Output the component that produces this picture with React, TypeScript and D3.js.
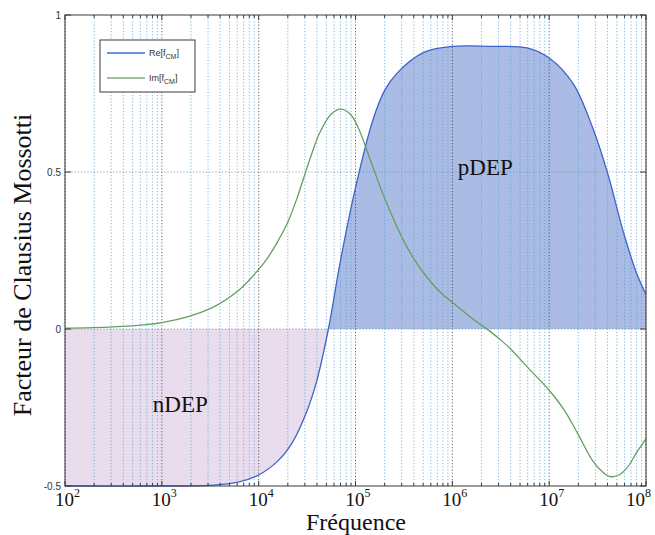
import React from 'react';
import * as d3 from 'd3';

const W = 655;
const H = 535;
const PLOT = { left: 65, right: 646, top: 15, bottom: 486 };

// Re[fCM] curve (frequency in Hz, value)
const reFreq = [1e2, 1e3, 3.16e3, 6.31e3, 1e4, 1.58e4, 2.24e4, 3.16e4, 3.98e4, 5.25e4, 6.92e4, 1e5, 1.51e5, 2.0e5, 2.69e5, 5.01e5, 1e6, 2.51e6, 5.89e6, 1e7, 1.78e7, 2.82e7, 3.98e7, 5.89e7, 7.94e7, 1e8];
const reValues = [-0.5, -0.5, -0.498, -0.487, -0.465, -0.42, -0.36, -0.26, -0.165, 0, 0.21, 0.45, 0.665, 0.76, 0.815, 0.88, 0.9, 0.9, 0.895, 0.863, 0.78, 0.64, 0.5, 0.305, 0.18, 0.11];

// Im[fCM] curve
const imFreq = [1e2, 3.16e2, 1e3, 3.16e3, 6.31e3, 1e4, 1.26e4, 1.58e4, 2.0e4, 2.51e4, 3.02e4, 3.55e4, 4.27e4, 5.62e4, 7.08e4, 8.91e4, 1.07e5, 1.29e5, 1.58e5, 1.95e5, 2.51e5, 3.16e5, 3.98e5, 5.62e5, 7.94e5, 1e6, 1.26e6, 1.58e6, 2.0e6, 2.51e6, 3.16e6, 3.98e6, 5.89e6, 1e7, 1.41e7, 1.95e7, 2.82e7, 3.55e7, 4.27e7, 5.25e7, 6.46e7, 7.94e7, 1e8];
const imValues = [0.003, 0.007, 0.02, 0.065, 0.125, 0.19, 0.23, 0.28, 0.34, 0.42, 0.495, 0.56, 0.625, 0.685, 0.7, 0.683, 0.64, 0.575, 0.5, 0.425, 0.345, 0.28, 0.225, 0.16, 0.11, 0.085, 0.06, 0.035, 0.012, -0.01, -0.035, -0.063, -0.12, -0.195, -0.255, -0.33, -0.42, -0.455, -0.47, -0.465, -0.44, -0.395, -0.35];

const xDecadeExponents = [2, 3, 4, 5, 6, 7, 8];
const yTickValues = [-0.5, 0, 0.5, 1];
const yTickLabels = ['-0.5', '0', '0.5', '1'];
const yGridValues = [0, 0.5];
const legendNames = ['Re', 'Im'];
const regionNames = ['nDEP', 'pDEP'];
const regionFreq = [1.55e3, 2.19e6];
const regionValue = [-0.264, 0.49];

const xLabel = 'Fréquence';
const yLabel = 'Facteur de Clausius Mossotti';

const RE_COLOR = '#3f63cc';
const IM_COLOR = '#62a062';
const POS_FILL = '#aabce3';
const NEG_FILL = '#e9dcec';

export default function App() {
  const x = d3.scaleLog().domain([1e2, 1e8]).range([PLOT.left, PLOT.right]);
  const y = d3.scaleLinear().domain([-0.5, 1]).range([PLOT.bottom, PLOT.top]);

  const reData = reFreq.map((f, i) => [f, reValues[i]] as [number, number]);
  const imData = imFreq.map((f, i) => [f, imValues[i]] as [number, number]);

  const curve = d3.curveCatmullRom.alpha(0.5);
  const line = d3
    .line<[number, number]>()
    .x((d) => x(d[0]))
    .y((d) => y(d[1]))
    .curve(curve);
  const area = d3
    .area<[number, number]>()
    .x((d) => x(d[0]))
    .y0(y(0))
    .y1((d) => y(d[1]))
    .curve(curve);

  const minor: number[] = [];
  const major: number[] = [];
  xDecadeExponents.forEach((e) => {
    major.push(Math.pow(10, e));
    if (e < 8) for (let k = 2; k <= 9; k++) minor.push(k * Math.pow(10, e));
  });

  const y0 = y(0);
  const serif = '"Liberation Serif", "Times New Roman", serif';
  const sans = '"Liberation Sans", Arial, sans-serif';

  return (
    <svg width={W} height={H} style={{ position: 'absolute', left: 0, top: 0, background: '#fff' }}>
      <defs>
        <clipPath id="posClip">
          <rect x={PLOT.left} y={PLOT.top} width={PLOT.right - PLOT.left} height={y0 - PLOT.top} />
        </clipPath>
        <clipPath id="negClip">
          <rect x={PLOT.left} y={y0} width={PLOT.right - PLOT.left} height={PLOT.bottom - y0} />
        </clipPath>
        <clipPath id="plotClip">
          <rect x={PLOT.left} y={PLOT.top - 1} width={PLOT.right - PLOT.left} height={PLOT.bottom - PLOT.top + 2} />
        </clipPath>
      </defs>
      <rect x={0} y={0} width={W} height={H} fill="#fff" />
      {/* fills */}
      <path d={area(reData) || ''} fill={POS_FILL} clipPath="url(#posClip)" />
      <path d={area(reData) || ''} fill={NEG_FILL} clipPath="url(#negClip)" />

      {/* grid */}
      {minor.map((f, i) => (
        <line key={'gm' + i} x1={x(f)} x2={x(f)} y1={PLOT.top} y2={PLOT.bottom} stroke="#4a9fd8" strokeWidth={0.8} strokeDasharray="1.2,2" opacity={0.9} />
      ))}
      {major.map((f, i) => (
        <line key={'gM' + i} x1={x(f)} x2={x(f)} y1={PLOT.top} y2={PLOT.bottom} stroke="#222" strokeWidth={0.8} strokeDasharray="1.2,2" opacity={0.85} />
      ))}
      {yGridValues.map((v, i) => (
        <line key={'gy' + i} x1={PLOT.left} x2={PLOT.right} y1={y(v)} y2={y(v)} stroke="#6f8fb0" strokeWidth={0.8} strokeDasharray="1.2,2" />
      ))}

      {/* curves */}
      <g clipPath="url(#plotClip)">
        <path d={line(reData) || ''} fill="none" stroke={RE_COLOR} strokeWidth={1.3} />
        <path d={line(imData) || ''} fill="none" stroke={IM_COLOR} strokeWidth={1.3} />
      </g>

      {/* axes box */}
      <rect x={PLOT.left} y={PLOT.top} width={PLOT.right - PLOT.left} height={PLOT.bottom - PLOT.top} fill="none" stroke="#3a3a3a" strokeWidth={1} />

      {/* x ticks */}
      {major.map((f, i) => (
        <g key={'xt' + i}>
          <line x1={x(f)} x2={x(f)} y1={PLOT.bottom} y2={PLOT.bottom - 5} stroke="#3a3a3a" />
          <line x1={x(f)} x2={x(f)} y1={PLOT.top} y2={PLOT.top + 5} stroke="#3a3a3a" />
        </g>
      ))}
      {minor.map((f, i) => (
        <g key={'xm' + i}>
          <line x1={x(f)} x2={x(f)} y1={PLOT.bottom} y2={PLOT.bottom - 3} stroke="#3a3a3a" />
          <line x1={x(f)} x2={x(f)} y1={PLOT.top} y2={PLOT.top + 3} stroke="#3a3a3a" />
        </g>
      ))}
      {xDecadeExponents.map((e, i) => (
        <text key={'xl' + i} x={Math.min(x(Math.pow(10, e)) - 10, W - 29)} y={506} fontFamily={serif} fontSize={19} fill="#111">
          10
          <tspan dy={-9} fontSize={12}>{e}</tspan>
        </text>
      ))}

      {/* y ticks */}
      {yTickValues.map((v, i) => (
        <g key={'yt' + i}>
          <line x1={PLOT.left} x2={PLOT.left + 6} y1={y(v)} y2={y(v)} stroke="#3a3a3a" />
          <line x1={PLOT.right} x2={PLOT.right - 6} y1={y(v)} y2={y(v)} stroke="#3a3a3a" />
          <text x={PLOT.left - 4} y={y(v) + 3.5} textAnchor="end" fontFamily={sans} fontSize={10} fill="#333">
            {yTickLabels[i]}
          </text>
        </g>
      ))}

      {/* axis titles */}
      <text x={356} y={530} textAnchor="middle" fontFamily={serif} fontSize={24} fill="#111">
        {xLabel}
      </text>
      <text transform="translate(31,265) rotate(-90)" textAnchor="middle" fontFamily={serif} fontSize={26} fill="#111">
        {yLabel}
      </text>

      {/* region labels */}
      {regionNames.map((n, i) => (
        <text key={'rl' + i} x={x(regionFreq[i])} y={y(regionValue[i])} textAnchor="middle" fontFamily={serif} fontSize={23} fill="#111">
          {n}
        </text>
      ))}

      {/* legend */}
      <rect x={100} y={40} width={95} height={52} fill="#fff" stroke="#3a3a3a" strokeWidth={1} />
      {legendNames.map((n, i) => (
        <g key={'lg' + i}>
          <line x1={107} x2={145} y1={53 + i * 25} y2={53 + i * 25} stroke={i === 0 ? '#2f74d8' : '#7ab07a'} strokeWidth={1.3} />
          <text x={149} y={56 + i * 25} fontFamily={sans} fontSize={9} fill="#333">
            {n}[f
            <tspan dy={3} fontSize={7}>CM</tspan>
            <tspan dy={-3}>]</tspan>
          </text>
        </g>
      ))}
    </svg>
  );
}
